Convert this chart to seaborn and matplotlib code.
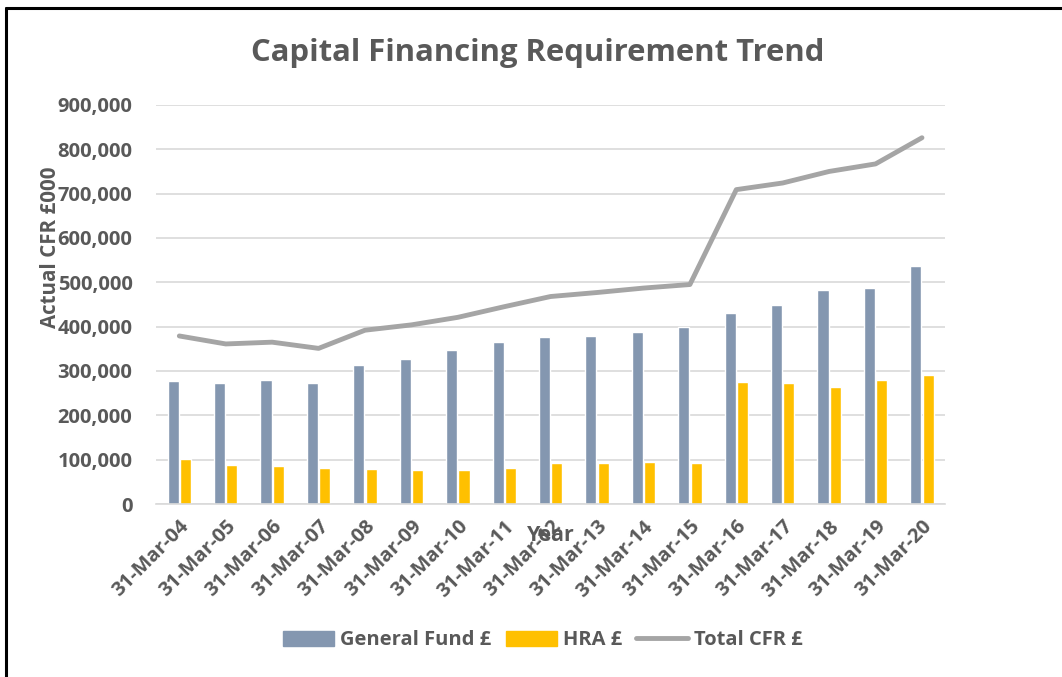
import numpy as np
import pandas as pd
import matplotlib.pyplot as plt
import seaborn as sns
from matplotlib.lines import Line2D
from matplotlib.ticker import FuncFormatter

# chart values (in £000)
years = ['31-Mar-04', '31-Mar-05', '31-Mar-06', '31-Mar-07', '31-Mar-08', '31-Mar-09',
         '31-Mar-10', '31-Mar-11', '31-Mar-12', '31-Mar-13', '31-Mar-14', '31-Mar-15',
         '31-Mar-16', '31-Mar-17', '31-Mar-18', '31-Mar-19', '31-Mar-20']
general_fund = [278000, 272000, 280000, 272000, 313000, 326000, 347000, 365000, 376000,
                380000, 388000, 399000, 431000, 449000, 483000, 487000, 536000]
hra = [101000, 89000, 85000, 81000, 78000, 77000, 76000, 81000, 92000,
       92000, 94000, 93000, 275000, 272000, 265000, 279000, 290000]
total_cfr = [379000, 361000, 365000, 351000, 392000, 404000, 421000, 445000, 468000,
             477000, 487000, 495000, 709000, 724000, 750000, 767000, 826000]
series_names = ['General Fund £', 'HRA £', 'Total CFR £']

TEXT = '#595959'
GRID = '#D9D9D9'
LINE = '#A5A5A5'
palette = {'General Fund £': '#8497B0', 'HRA £': '#FFC000'}

sns.set_style('white')
plt.rcParams['font.family'] = ['Open Sans', 'DejaVu Sans']
plt.rcParams['font.weight'] = 'bold'

# long table for the grouped bars
bars = pd.DataFrame({
    'year': years * 2,
    'value': general_fund + hra,
    'series': [series_names[0]] * len(years) + [series_names[1]] * len(years),
})

fig = plt.figure(figsize=(10.62, 6.77), dpi=100)
ax = fig.add_axes([0.147, 0.2555, 0.743, 0.5895])

sns.barplot(data=bars, x='year', y='value', hue='series', palette=palette,
            saturation=1, width=0.53, gap=0.1, ax=ax, legend=False)
sns.lineplot(x=np.arange(len(years)), y=total_cfr, color=LINE, linewidth=3.5,
             ax=ax, solid_capstyle='round')

ax.set_xlim(-0.5, len(years) - 0.5)
ax.set_ylim(0, 900000)
ax.set_yticks(np.arange(0, 900001, 100000))
ax.yaxis.set_major_formatter(FuncFormatter(lambda v, p: f'{int(v):,}'))
ax.grid(axis='y', color=GRID, linewidth=1.2)
ax.set_axisbelow(True)
for side in ['left', 'right', 'top']:
    ax.spines[side].set_visible(False)
ax.spines['bottom'].set_color(GRID)
ax.spines['bottom'].set_linewidth(1.2)

ax.tick_params(axis='y', length=0, pad=17, labelsize=14.5, labelcolor=TEXT)
ax.tick_params(axis='x', length=0, pad=9, labelsize=14.5, labelcolor=TEXT)
plt.setp(ax.get_xticklabels(), rotation=45, ha='right', rotation_mode='anchor',
         fontweight='bold')
plt.setp(ax.get_yticklabels(), fontweight='bold')

# axis titles sit on top of the tick labels, as in the original
ax.set_ylabel('Actual CFR £000', fontsize=14.8, color=TEXT, fontweight='bold')
ax.yaxis.set_label_coords(-0.121, 0.643)
ax.set_xlabel('Year', fontsize=15.5, color=TEXT, fontweight='bold')
ax.xaxis.set_label_coords(0.5, -0.052)

fig.text(0.506, 0.922, 'Capital Financing Requirement Trend', ha='center', va='center',
         fontsize=22.3, color=TEXT, fontweight='bold')

handles = [plt.Rectangle((0, 0), 1, 1, color=palette[series_names[0]]),
           plt.Rectangle((0, 0), 1, 1, color=palette[series_names[1]]),
           Line2D([0], [0], color=LINE, linewidth=3.5, solid_capstyle='round')]
leg = fig.legend(handles, series_names, loc='center', bbox_to_anchor=(0.511, 0.054),
                 ncol=3, frameon=False, fontsize=14.5, handlelength=2.55, handleheight=0.8,
                 columnspacing=0.7, handletextpad=0.3)
for t in leg.get_texts():
    t.set_color(TEXT)
    t.set_fontweight('bold')

# black frame on the top and left edge of the picture
fig.add_artist(Line2D([0.006, 1.0], [0.988, 0.988], color='black', linewidth=2.2,
                      transform=fig.transFigure))
fig.add_artist(Line2D([0.006, 0.006], [0.0, 0.988], color='black', linewidth=2.2,
                      transform=fig.transFigure))

fig.savefig('out.png', dpi=100)
